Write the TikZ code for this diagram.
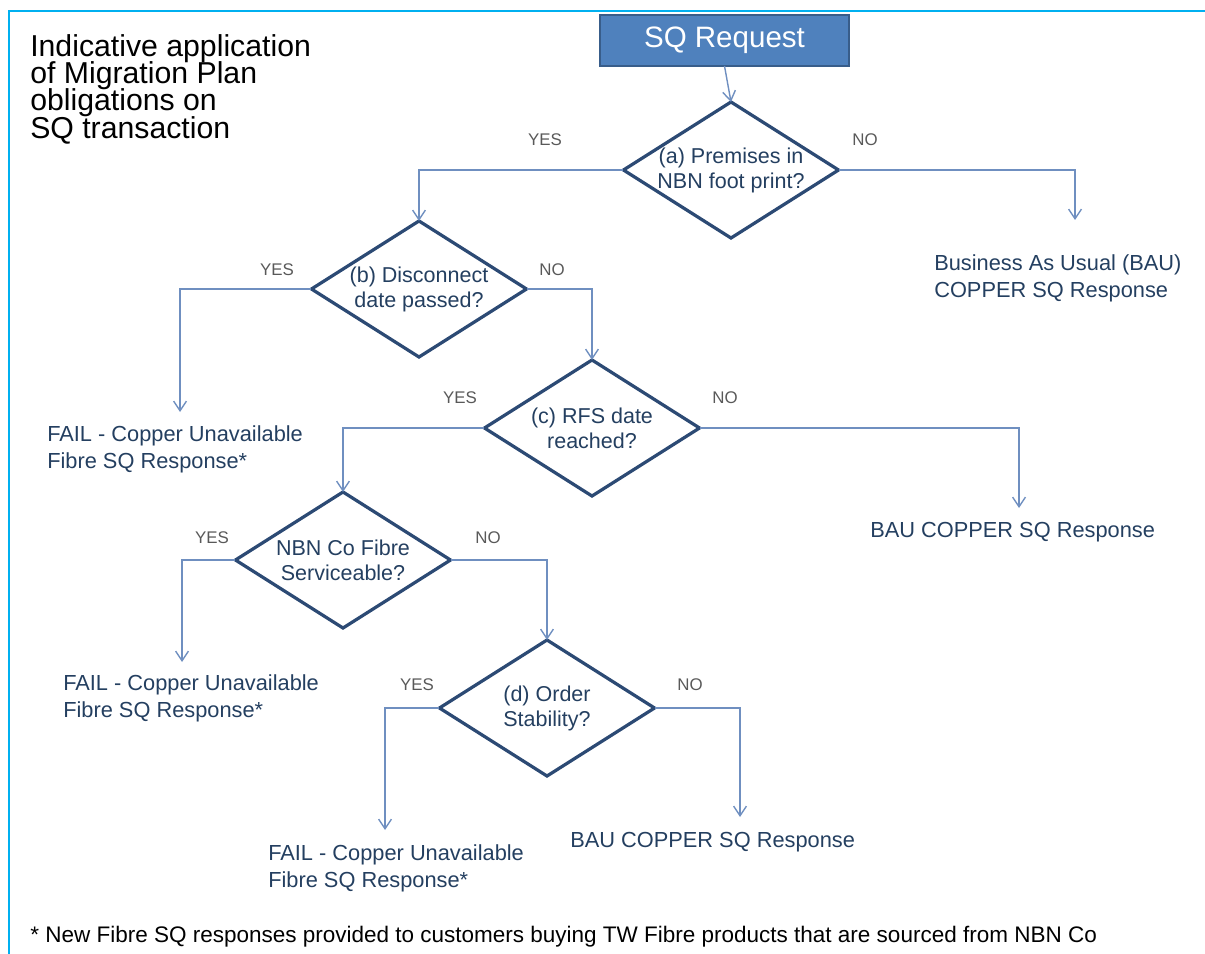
\documentclass[tikz,border=0pt]{standalone}
\usepackage{fontspec}
\setmainfont{Liberation Sans}
\usetikzlibrary{shapes.geometric,arrows.meta}

\definecolor{frameblue}{HTML}{00B0F0}
\definecolor{boxfill}{HTML}{4F81BD}
\definecolor{boxline}{HTML}{385D8A}
\definecolor{navytext}{HTML}{243F60}
\definecolor{diamondline}{HTML}{2C4A74}
\definecolor{linkblue}{HTML}{6F8FC0}
\definecolor{branchgray}{HTML}{595959}

\begin{document}
\begin{tikzpicture}[x=0.025cm, y=-0.025cm,
  start/.style={draw=boxline, fill=boxfill, line width=1.5pt, outer sep=0pt,
    minimum width=6.225cm, minimum height=1.275cm, text=white, font=\fontsize{21}{24}\selectfont},
  decision/.style={draw=diamondline, line width=2.3pt, shape=diamond, inner sep=0pt, outer sep=0pt,
    minimum width=5.375cm, minimum height=3.4cm},
  asktext/.style={align=center, text=navytext, inner sep=0pt, font=\fontsize{15.3}{17.8}\selectfont},
  answer/.style={anchor=north west, inner sep=0pt, align=left, text=navytext, font=\fontsize{15.5}{19.2}\selectfont},
  branch/.style={text=branchgray, inner sep=0pt, font=\fontsize{12}{14}\selectfont},
  link/.style={draw=linkblue, line width=1pt, -{Straight Barb[length=2.4mm,width=3.2mm]}}]

\useasboundingbox (0,0) rectangle (1205,954);
\draw[frameblue, line width=2pt] (9,954) -- (9,11) -- (1205,11); % Slide frame

\node [anchor=north west, inner sep=0pt, align=left, font=\fontsize{21.5}{19.2}\selectfont] (title) at (30,34)
  {Indicative application\\[-1.6pt]of Migration Plan\\[-1.6pt]obligations on\\[-1.6pt]SQ transaction};

\node [start] (request) at (724.5,40.5) {SQ Request};

\node [decision, label={[asktext]center:{(a) Premises in\\NBN foot print?}}] (qa) at (731,170) {};
\node [decision, label={[asktext]center:{(b) Disconnect\\date passed?}}] (qb) at (419,289) {};
\node [decision, label={[asktext]center:{(c) RFS date\\reached?}}] (qc) at (592,428) {};
\node [decision, label={[asktext]center:{NBN Co Fibre\\Serviceable?}}] (qf) at (343,560) {};
\node [decision, label={[asktext]center:{(d) Order\\Stability?}}] (qd) at (547,708) {};

\node [answer] (bus) at (934,254) {Business As Usual (BAU)\\COPPER SQ Response};
\node [answer] (fail1) at (47,425) {FAIL - Copper Unavailable\\Fibre SQ Response*};
\node [answer] (bau2) at (870,522) {BAU COPPER SQ Response};
\node [answer] (fail2) at (63,674) {FAIL - Copper Unavailable\\Fibre SQ Response*};
\node [answer] (fail3) at (268,844) {FAIL - Copper Unavailable\\Fibre SQ Response*};
\node [answer] (bau3) at (570,832) {BAU COPPER SQ Response};

\foreach \Name/\Word/\X/\Y in {yesa/YES/545/140, noa/NO/865/140, yesb/YES/277/270, nob/NO/552/270,
    yesc/YES/460/398, noc/NO/725/398, yesf/YES/212/538, nof/NO/488/538, yesd/YES/417/685, nod/NO/690/685}{
    \node [branch] (\Name) at (\X,\Y) {\Word};
}

\draw[link] (request.south) -- (qa.north);
\draw[link] (qa.west) -| (qb.north);
\draw[link] (qa.east) -| ([xshift=3.525cm, yshift=0.85cm]bus.north west);
\draw[link] (qb.west) -| ([xshift=3.325cm, yshift=0.325cm]fail1.north west);
\draw[link] (qb.east) -| (qc.north);
\draw[link] (qc.west) -| (qf.north);
\draw[link] (qc.east) -| ([xshift=3.725cm, yshift=0.35cm]bau2.north west);
\draw[link] (qf.west) -| ([xshift=2.975cm, yshift=0.3cm]fail2.north west);
\draw[link] (qf.east) -| (qd.north);
\draw[link] (qd.west) -| ([xshift=2.925cm, yshift=0.35cm]fail3.north west);
\draw[link] (qd.east) -| ([xshift=4.25cm, yshift=0.375cm]bau3.north west);

\node [anchor=west, inner sep=0pt, font=\fontsize{16}{18}\selectfont] (footnote) at (30,937)
  {* New Fibre SQ responses provided to customers buying TW Fibre products that are sourced from NBN Co}; % Footnote

\end{tikzpicture}
\end{document}
